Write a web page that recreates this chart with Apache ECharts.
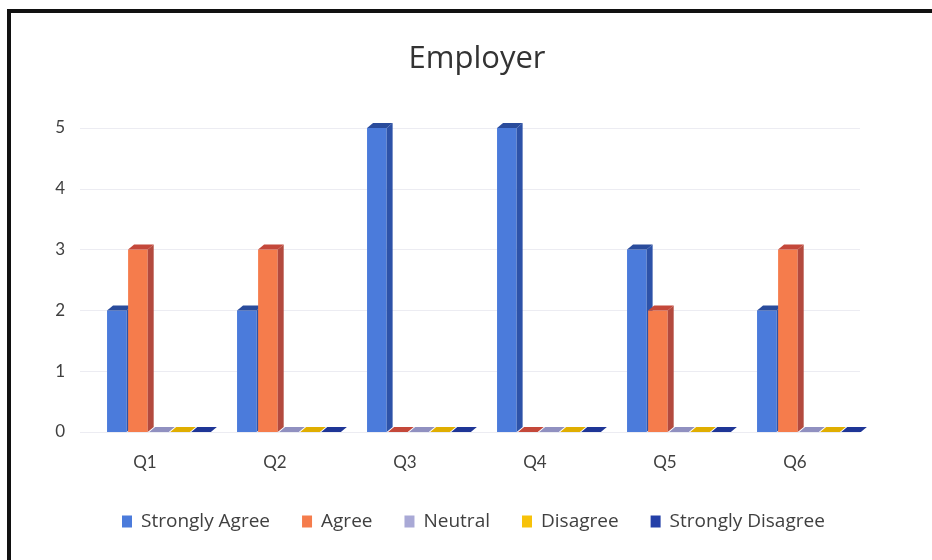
<!DOCTYPE html>
<html>
<head>
<meta charset="utf-8">
<script src="https://cdn.jsdelivr.net/npm/echarts@6/dist/echarts.min.js"></script>
<style>html,body{margin:0;padding:0;background:#fff}#c{width:932px;height:560px}</style>
</head>
<body>
<div id="c"></div>
<script>
const categories = ['Q1','Q2','Q3','Q4','Q5','Q6'];
const seriesNames = ['Strongly Agree','Agree','Neutral','Disagree','Strongly Disagree'];
const stronglyAgree = [2,2,5,5,3,2];
const agree = [3,3,0,0,2,3];
const neutral = [0,0,0,0,0,0];
const disagree = [0,0,0,0,0,0];
const stronglyDisagree = [0,0,0,0,0,0];
const yTicks = [0,1,2,3,4,5];

const values = [stronglyAgree, agree, neutral, disagree, stronglyDisagree];
const colors = [
  {front:'#4b7bdb', side:'#2d52a8', top:'#2a4c9c'},
  {front:'#f57c4c', side:'#b34a3e', top:'#c4483a'},
  {front:'#a9a9d6', side:'#8080b0', top:'#9090c0'},
  {front:'#f7c20a', side:'#c89a00', top:'#e0ae00'},
  {front:'#2440a8', side:'#182c80', top:'#1e3596'}
];

function makeRender(si){
  return function(params, api){
    const cat = api.value(0), val = api.value(1);
    const p0 = api.coord([cat, 0]);
    const p1 = api.coord([cat, val]);
    const band = api.size([1,0])[0];
    const slot = band*0.162;
    const left = p0[0] - band*0.292 + si*slot;
    const w = slot*0.93;
    const dx = 6, dy = 5;
    const y0 = p0[1], y1 = p1[1];
    const c = colors[si];
    const children = [];
    if (y0 - y1 > 0.5) {
      children.push({type:'rect', shape:{x:left, y:y1, width:w, height:y0-y1}, style:{fill:c.front}});
      children.push({type:'polygon', shape:{points:[[left+w,y1],[left+w+dx,y1-dy],[left+w+dx,y0-dy],[left+w,y0]]}, style:{fill:c.side}});
    }
    children.push({type:'polygon', shape:{points:[[left,y1],[left+dx,y1-dy],[left+w+dx,y1-dy],[left+w,y1]]}, style:{fill:c.top}});
    return {type:'group', children};
  };
}

const series = values.map((arr, si) => ({
  name: seriesNames[si],
  type: 'custom',
  renderItem: makeRender(si),
  encode: {x:0, y:1},
  itemStyle: {color: colors[si].front},
  data: arr.map((v, i) => [i, v])
}));

const chart = echarts.init(document.getElementById('c'), null, {renderer:'canvas'});
chart.setOption({
  backgroundColor: '#fff',
  animation: false,
  title: {
    text: 'Employer', left: 472, textAlign: 'center', top: 39,
    textStyle: {fontFamily: 'Open Sans', fontSize: 31, fontWeight: 'normal', color: '#333'}
  },
  legend: {
    bottom: 24, left: 117,
    itemWidth: 10, itemHeight: 12, itemGap: 32,
    icon: 'rect',
    textStyle: {fontFamily: 'Open Sans', fontSize: 19, color: '#404040', padding:[0,0,0,4]},
    data: seriesNames
  },
  grid: {left: 80, right: 72, top: 128, bottom: 128},
  xAxis: {
    type: 'category', data: categories,
    axisLine: {show: false}, axisTick: {show: false},
    axisLabel: {fontFamily: 'Lato', fontSize: 17, color: '#404040', margin: 22}
  },
  yAxis: {
    type: 'value', min: 0, max: 5, interval: 1,
    axisLabel: {fontFamily: 'Lato', fontSize: 17, color: '#404040', margin: 15,
      formatter: v => yTicks.includes(v) ? String(v) : ''},
    splitLine: {lineStyle: {color: '#ececf2', width: 1}},
    axisLine: {show: false}, axisTick: {show: false}
  },
  graphic: [
    {type:'line', shape:{x1:7, y1:11, x2:932, y2:11}, style:{stroke:'#111', lineWidth:4}, z:100},
    {type:'line', shape:{x1:9, y1:9, x2:9, y2:560}, style:{stroke:'#111', lineWidth:4}, z:100}
  ],
  series: series
});
</script>
</body>
</html>
